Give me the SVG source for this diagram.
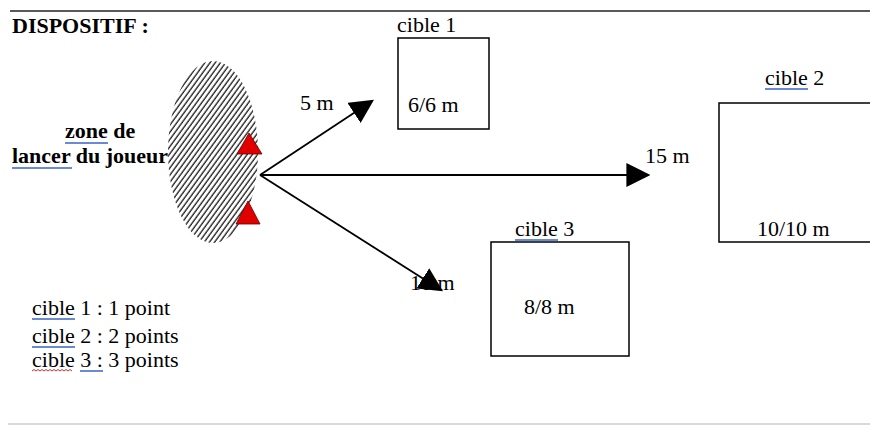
<svg xmlns="http://www.w3.org/2000/svg" width="870" height="426" viewBox="0 0 870 426">
<defs>
<pattern id="hatch" patternUnits="userSpaceOnUse" width="4.2" height="4" patternTransform="rotate(36)">
<rect width="4.2" height="4" fill="#fff"/>
<line x1="1" y1="0" x2="1" y2="4" stroke="#1a1a1a" stroke-width="1.3"/>
</pattern>
<marker id="ahb" viewBox="0 0 10 10" refX="9" refY="5" markerWidth="24" markerHeight="24" markerUnits="userSpaceOnUse" orient="auto">
<path d="M0,0 L10,5 L0,10 Z" fill="#000"/>
</marker>
</defs>
<style>
.t{font-family:"Liberation Serif","Times New Roman",serif;font-size:22px;fill:#000}
.b{font-weight:bold}
.box{fill:none;stroke:#000;stroke-width:1.5}
.ul{stroke:#3a63c8;stroke-width:1.5}
.tri{fill:#e00000;stroke:#600;stroke-width:0.8}
.con{stroke:#000;stroke-width:1.8;fill:none}
</style>
<rect width="870" height="426" fill="#fff"/>
<line x1="10" y1="11" x2="870" y2="11" stroke="#222" stroke-width="1.5"/>
<line x1="8" y1="424" x2="870" y2="424" stroke="#ccc" stroke-width="1.5"/>
<text class="t b" x="12" y="33">DISPOSITIF :</text>

<g id="zone">
<ellipse cx="213" cy="152" rx="45" ry="91" fill="url(#hatch)"/>
<polygon class="tri" points="249,133 262,154 237,154"/>
<polygon class="tri" points="248,201 260,224 236,224"/>
<text class="t b" x="65" y="138">zone de</text>
<line class="ul" x1="65" y1="143" x2="108" y2="143"/>
<text class="t b" x="12" y="163">lancer du joueur</text>
<line class="ul" x1="12" y1="168" x2="72" y2="168"/>
</g>

<g id="connectors">
<line class="con" x1="260" y1="175" x2="372" y2="101" marker-end="url(#ahb)"/>
<line class="con" x1="260" y1="175" x2="648" y2="175" marker-end="url(#ahb)"/>
<line class="con" x1="260" y1="175" x2="441" y2="290" marker-end="url(#ahb)"/>
<text class="t" x="300" y="110">5 m</text>
<text class="t" x="645" y="163">15 m</text>
<text class="t" x="410" y="290">10 m</text>
</g>

<g id="cible1">
<rect class="box" x="398" y="38" width="91" height="91"/>
<text class="t" x="397" y="32">cible 1</text>
<text class="t" x="408" y="112">6/6 m</text>
</g>

<g id="cible2">
<rect class="box" x="719" y="103" width="160" height="139"/>
<text class="t" x="765" y="85">cible 2</text>
<line class="ul" x1="765" y1="89" x2="808" y2="89"/>
<text class="t" x="757" y="236">10/10 m</text>
</g>

<g id="cible3">
<rect class="box" x="491" y="242" width="138" height="114"/>
<text class="t" x="515" y="236">cible 3</text>
<line class="ul" x1="515" y1="240" x2="558" y2="240"/>
<text class="t" x="524" y="314">8/8 m</text>
</g>

<g id="legende">
<text class="t" x="32" y="315">cible 1 : 1 point</text>
<line class="ul" x1="32" y1="319" x2="75" y2="319"/>
<text class="t" x="32" y="343">cible 2 : 2 points</text>
<line class="ul" x1="32" y1="347" x2="75" y2="347"/>
<text class="t" x="32" y="367">cible 3 : 3 points</text>
<path d="M32,371 l2,-1.5 l2,1.5 l2,-1.5 l2,1.5 l2,-1.5 l2,1.5 l2,-1.5 l2,1.5 l2,-1.5 l2,1.5 l2,-1.5 l2,1.5 l2,-1.5 l2,1.5 l2,-1.5 l2,1.5 l2,-1.5 l2,1.5 l2,-1.5 l2,1.5" fill="none" stroke="#d03030" stroke-width="1"/>
<line class="ul" x1="80" y1="371" x2="103" y2="371"/>
</g>
</svg>
